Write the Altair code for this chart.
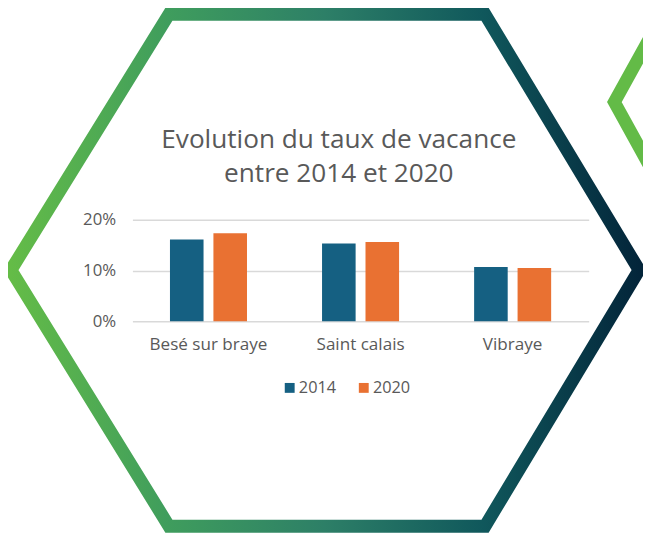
import altair as alt
import pandas as pd

# ---- chart data ----
categories = ["Besé sur braye", "Saint calais", "Vibraye"]
years = ["2014", "2020"]
v2014 = [0.161, 0.153, 0.107]
v2020 = [0.173, 0.156, 0.105]
y_ticks = [0, 0.1, 0.2]
title_lines = ["Evolution du taux de vacance", "entre 2014 et 2020"]

# ---- decoration (hexagon frames, page pixel coordinates) ----
hex_x = [331, 491, 647, 491, 171, 11, 171, 331]
hex_y = [11, 11, 270, 529.5, 529.5, 270, 11, 11]
hex2_x = [765, 622, 765]
hex2_y = [-159, 100, 359]

FONT = "Open Sans"
GREY = "#595959"

rows = []
for c, a, b in zip(categories, v2014, v2020):
    rows.append({"commune": c, "annee": years[0], "taux": a})
    rows.append({"commune": c, "annee": years[1], "taux": b})
df = pd.DataFrame(rows)

hex_df = pd.DataFrame({"px": hex_x, "py": hex_y, "i": list(range(len(hex_x)))})
hex2_df = pd.DataFrame({"px": hex2_x, "py": hex2_y, "i": list(range(len(hex2_x)))})

# plot area in page coords: x 134..596, y 219..322
hx = alt.X("px:Q", scale=alt.Scale(domain=[134, 596], nice=False, zero=False), axis=None)
hy = alt.Y("py:Q", scale=alt.Scale(domain=[219, 322], nice=False, zero=False, reverse=True), axis=None)

grad = alt.LinearGradient(
    gradient="linear",
    stops=[
        alt.GradientStop(color="#64BC47", offset=0),
        alt.GradientStop(color="#3F9D5D", offset=0.25),
        alt.GradientStop(color="#2D7F67", offset=0.5),
        alt.GradientStop(color="#10585C", offset=0.75),
        alt.GradientStop(color="#03253A", offset=1),
    ],
    x1=0, x2=1, y1=0, y2=0,
)

hexagon = alt.Chart(hex_df).mark_line(
    stroke=grad, strokeWidth=13, strokeJoin="miter", strokeCap="butt", clip=False
).encode(x=hx, y=hy, order="i:Q")

hexagon2 = alt.Chart(hex2_df).mark_line(
    stroke="#63BB47", strokeWidth=13, strokeJoin="miter", strokeCap="butt", clip=False
).encode(x=hx, y=hy, order="i:Q")

title = alt.Chart(pd.DataFrame({"k": [0]})).mark_text(
    text=title_lines, font=FONT, fontSize=26.5, color=GREY, align="center",
    baseline="alphabetic", lineHeight=35, clip=False,
).encode(x=alt.value(209), y=alt.value(-73))

bars = alt.Chart(df).mark_bar().encode(
    x=alt.X(
        "commune:N",
        sort=categories,
        scale=alt.Scale(paddingInner=0.4935, paddingOuter=0.2468),
        axis=alt.Axis(
            title=None, domain=False, ticks=False, labelAngle=0, labelPadding=14,
            labelFontSize=17.3, labelColor=GREY, labelFont=FONT,
        ),
    ),
    xOffset=alt.XOffset("annee:N", scale=alt.Scale(paddingInner=0.2273, paddingOuter=0)),
    y=alt.Y(
        "taux:Q",
        scale=alt.Scale(domain=[0, 0.2], nice=False),
        axis=alt.Axis(
            title=None, values=y_ticks, format=".0%", domain=False, ticks=False,
            grid=True, gridColor="#D9D9D9", gridWidth=1.5, labelPadding=17,
            labelFontSize=17, labelColor=GREY, labelFont=FONT,
        ),
    ),
    color=alt.Color(
        "annee:N",
        scale=alt.Scale(domain=years, range=["#156082", "#E97132"]),
        legend=alt.Legend(
            title=None, orient="none", legendX=151, legendY=162, direction="horizontal",
            symbolType="square", symbolSize=100, symbolStrokeWidth=0,
            labelFontSize=16.5, labelColor=GREY, labelFont=FONT, labelOffset=1,
            columnPadding=19, padding=0,
        ),
    ),
)

chart = alt.layer(hexagon, hexagon2, title, bars).resolve_scale(
    x="independent", y="independent"
).properties(
    width=462,
    height=103,
    autosize=alt.AutoSizeParams(type="none"),
    padding={"left": 126, "top": 211, "right": 55, "bottom": 211},
    background="white",
).configure_view(stroke=None)

chart.save("out.html", embed_options={"renderer": "svg", "actions": False})
